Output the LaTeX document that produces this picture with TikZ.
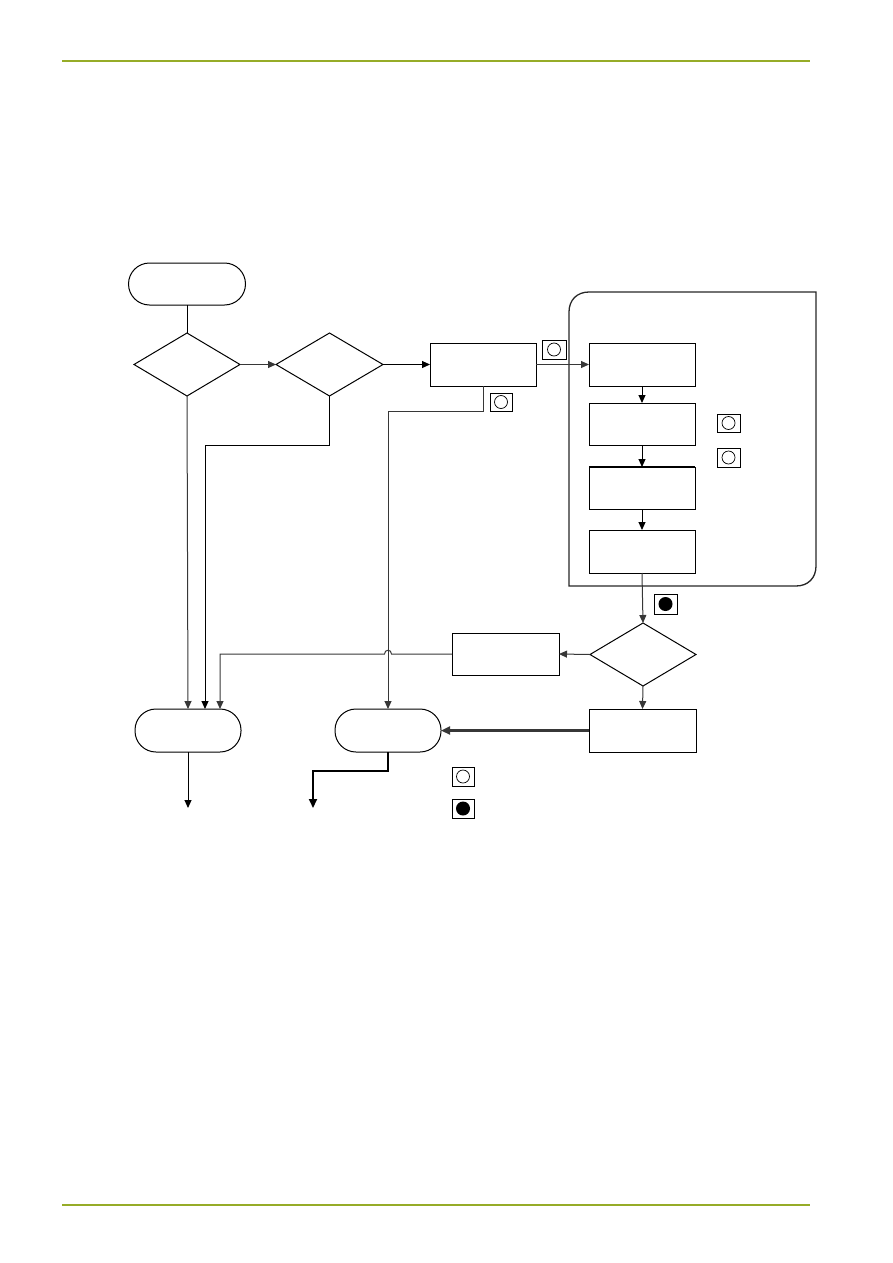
\documentclass[tikz,border=0pt]{standalone}
\usetikzlibrary{arrows.meta,shapes.geometric}
\definecolor{hdr}{RGB}{150,172,40}
\definecolor{ln}{RGB}{55,55,55}
\begin{document}
\begin{tikzpicture}[x=1pt,y=-1pt,
  every node/.style={inner sep=0pt,outer sep=0pt},
  term/.style={draw,line width=1pt,rounded corners=21pt,minimum width=106pt,minimum height=43pt},
  term1/.style={term,minimum width=117pt,minimum height=42pt},
  box/.style={draw,line width=1pt,minimum width=106pt,minimum height=43pt},
  dec/.style={draw,line width=1pt,diamond,minimum width=106pt,minimum height=63pt},
  iconbox/.style={draw,line width=0.9pt,minimum width=22pt,minimum height=19pt,
    path picture={\draw[line width=0.7pt] (path picture bounding box.center) circle (6.5pt);}},
  iconfill/.style={draw,line width=0.9pt,minimum width=22pt,minimum height=19pt,
    path picture={\fill (path picture bounding box.center) circle (7pt);}},
  garr/.style={draw=ln,line width=1pt,-{Triangle[length=8pt,width=7pt]}},
  barr/.style={draw=black,line width=1pt,-{Triangle[length=8pt,width=7pt]}},
  thickarr/.style={line width=2.2pt,-{Triangle[length=9pt,width=8pt]}}
]
\useasboundingbox (0,0) rectangle (893,1263);
% header / footer rules
\coordinate (h1) at (62,61); \coordinate (h2) at (810,61);
\coordinate (f1) at (62,1205); \coordinate (f2) at (810,1205);
\draw[hdr,line width=1.4pt] (h1) -- (h2);
\draw[hdr,line width=1.4pt] (f1) -- (f2);

% container with two rounded corners
\draw[line width=1.3pt,draw=black!85] (569,586) -- (569,312) .. controls (569,300) and (577,292) .. (589,292)
  -- (816,292) -- (816,566) .. controls (816,578) and (808,586) .. (796,586) -- cycle;

% nodes
\node[term1] (start) at (187,284) {};
\node[dec] (d1) at (187,364.5) {};
\node[dec,minimum width=107pt] (d2) at (329.5,364.5) {};
\node[box] (A) at (483,364.5) {};
\node[box] (B1) at (642,364.5) {};
\node[box,minimum height=42pt] (B2) at (642,424) {};
\node[box,minimum height=42pt] (B3) at (642,488) {};
\draw[line width=2pt] (B3.north west) -- (B3.north east);
\node[box] (B4) at (642,551.5) {};
\node[dec] (d3) at (643,654.5) {};
\node[box,minimum width=107pt,minimum height=42pt] (C) at (505.5,654) {};
\node[box,minimum width=107pt] (D) at (642.5,730.5) {};
\node[term] (T1) at (188,730.5) {};
\node[term] (T2) at (388,730.5) {};

% icons
\node[iconbox,minimum width=24pt] (i1) at (554,349.5) {};
\node[iconbox,minimum height=18pt] (i2) at (501,402) {};
\node[iconbox,minimum width=23pt,minimum height=18pt] (i3) at (728.5,423) {};
\node[iconbox,minimum width=23pt] (i4) at (728.5,457.5) {};
\node[iconfill,minimum width=23pt,minimum height=20pt] (i5) at (665.5,604) {};
\node[iconbox] (i6) at (463,776.5) {};
\node[iconfill] (i7) at (463,808.5) {};

% connectors
\draw[line width=1pt] (start.south) -- (d1.north);
\draw[garr] (d1.east) -- (d2.west);
\draw[barr] (d2.east) -- (A.west);
\draw[garr] (A.east) -- (B1.west);
\draw[barr] (B1.south) -- (B2.north);
\draw[barr] (B2.south) -- (B3.north);
\draw[barr] (B3.south) -- (B4.north);
\draw[garr] (B4.south) -- (d3.north);
\draw[garr] (d3.west) -- (C.east);
\draw[garr] (d3.south) -- (D.north);
\draw[draw=ln,thickarr] (D.west) -- (T2.east);

\draw[garr] (d1.south) -- (T1.north);
\coordinate (k1) at (329.5,445);
\draw[barr] (d2.south) -- (k1) -| ([xshift=17pt]T1.north);
\coordinate (k2) at (483,411);
\draw[garr] (A.south -| k2) -- (k2) -| (T2.north);
\coordinate (hopR) at (391.5,654);
\coordinate (hopL) at (384.5,654);
\draw[garr] (C.west) -- (hopR) .. controls (391.5,649) and (384.5,649) .. (hopL) -| ([xshift=32pt]T1.north);

\coordinate (e1) at (188,808);
\draw[barr] (T1.south) -- (e1);
\coordinate (k3) at (388,771);
\coordinate (e2) at (313,808);
\draw[thickarr,line width=2pt] (T2.south) -- (k3) -| (e2);
\end{tikzpicture}
\end{document}
